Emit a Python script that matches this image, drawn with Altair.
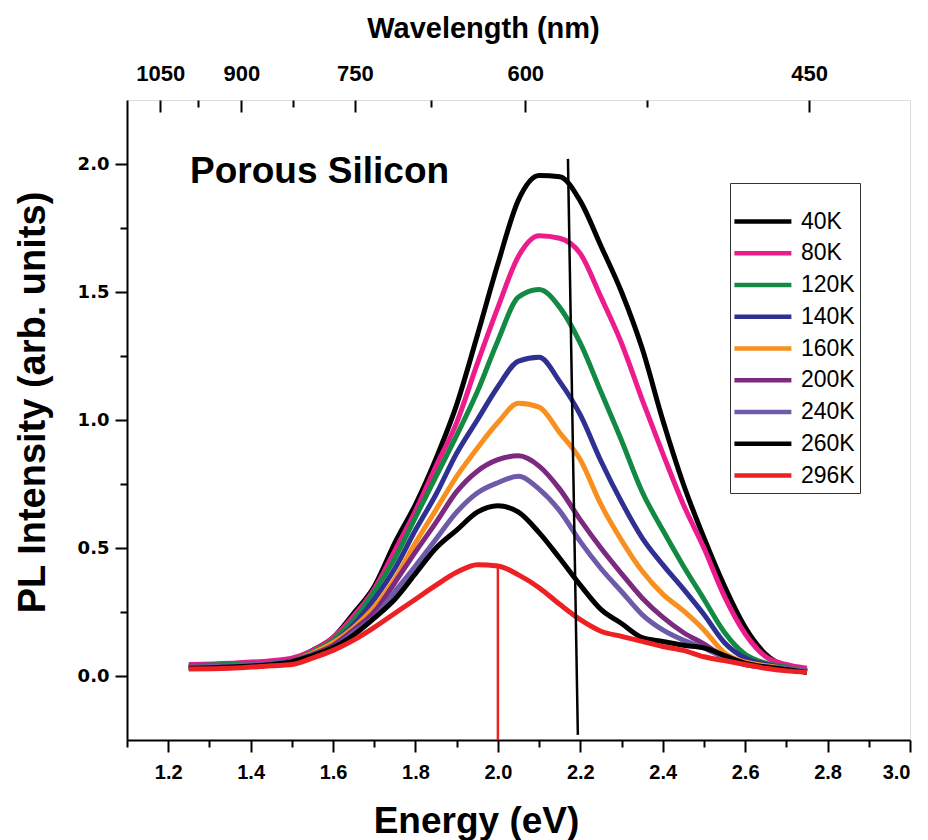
import altair as alt
import pandas as pd

ENERGY = [1.25, 1.35, 1.45, 1.5, 1.55, 1.6, 1.65, 1.7, 1.75, 1.8, 1.85, 1.9, 1.95, 2.0,
          2.05, 2.1, 2.15, 2.2, 2.25, 2.3, 2.35, 2.4, 2.45, 2.5, 2.55, 2.6, 2.65, 2.7, 2.75]

T40 = [0.03, 0.035, 0.045, 0.06, 0.10, 0.15, 0.245, 0.35, 0.52, 0.67, 0.85, 1.06, 1.33, 1.61,
       1.86, 1.955, 1.95, 1.855, 1.68, 1.50, 1.28, 1.0, 0.75, 0.54, 0.35, 0.19, 0.085, 0.035, 0.015]
T80 = [0.045, 0.05, 0.06, 0.07, 0.10, 0.15, 0.235, 0.34, 0.49, 0.645, 0.82, 0.99, 1.22, 1.44,
       1.64, 1.72, 1.71, 1.65, 1.48, 1.30, 1.08, 0.87, 0.67, 0.50, 0.31, 0.165, 0.075, 0.045, 0.03]
T120 = [0.04, 0.045, 0.05, 0.06, 0.095, 0.14, 0.22, 0.33, 0.46, 0.62, 0.78, 0.94, 1.11, 1.31,
        1.48, 1.51, 1.44, 1.30, 1.11, 0.92, 0.72, 0.57, 0.43, 0.30, 0.17, 0.085, 0.05, 0.035, 0.02]
T140 = [0.035, 0.04, 0.05, 0.06, 0.09, 0.13, 0.20, 0.30, 0.42, 0.57, 0.71, 0.87, 1.0, 1.13,
        1.23, 1.245, 1.15, 1.02, 0.84, 0.68, 0.54, 0.435, 0.34, 0.24, 0.13, 0.07, 0.045, 0.03, 0.02]
T160 = [0.035, 0.04, 0.05, 0.06, 0.09, 0.13, 0.19, 0.27, 0.38, 0.52, 0.65, 0.78, 0.89, 0.99,
        1.065, 1.05, 0.95, 0.845, 0.67, 0.53, 0.41, 0.32, 0.255, 0.18, 0.09, 0.055, 0.04, 0.03, 0.02]
T200 = [0.035, 0.04, 0.05, 0.06, 0.085, 0.12, 0.18, 0.25, 0.365, 0.485, 0.60, 0.72, 0.80, 0.845,
        0.86, 0.82, 0.73, 0.61, 0.50, 0.40, 0.305, 0.23, 0.17, 0.125, 0.075, 0.045, 0.035, 0.03, 0.02]
T240 = [0.035, 0.04, 0.05, 0.055, 0.085, 0.11, 0.17, 0.23, 0.33, 0.43, 0.535, 0.64, 0.715, 0.755,
        0.78, 0.73, 0.645, 0.525, 0.42, 0.33, 0.24, 0.18, 0.14, 0.11, 0.07, 0.045, 0.035, 0.03, 0.02]
T260 = [0.03, 0.035, 0.045, 0.055, 0.08, 0.11, 0.16, 0.226, 0.30, 0.40, 0.50, 0.57, 0.64, 0.665,
        0.64, 0.56, 0.46, 0.355, 0.26, 0.205, 0.15, 0.135, 0.12, 0.11, 0.08, 0.05, 0.035, 0.025, 0.015]
T296 = [0.027, 0.03, 0.04, 0.045, 0.07, 0.10, 0.14, 0.19, 0.245, 0.30, 0.355, 0.405, 0.435, 0.43,
        0.395, 0.345, 0.28, 0.22, 0.175, 0.155, 0.135, 0.115, 0.10, 0.075, 0.06, 0.045, 0.03, 0.02, 0.015]

LABELS = ["40K", "80K", "120K", "140K", "160K", "200K", "240K", "260K", "296K"]
SERIES = [T40, T80, T120, T140, T160, T200, T240, T260, T296]
COLORS = ["#000000", "#EC1C8C", "#138A43", "#2E3192", "#F7901E",
          "#7B2A7F", "#6D5BAA", "#000000", "#ED2024"]

X_MAJOR = [1.2, 1.4, 1.6, 1.8, 2.0, 2.2, 2.4, 2.6, 2.8, 3.0]
X_MINOR = [1.1, 1.3, 1.5, 1.7, 1.9, 2.1, 2.3, 2.5, 2.7, 2.9]
Y_MAJOR = [0.0, 0.5, 1.0, 1.5, 2.0]
Y_MINOR = [0.25, 0.75, 1.25, 1.75]
WL_MAJOR = [1050, 900, 750, 600, 450]
WL_MINOR = [975, 825, 675, 525]
HC = 1239.84

X_DOM = [1.1, 3.0]
Y_DOM = [-0.25, 2.25]

# guide lines: red at peak of 296K, black slanted through 40K peak region
RED_LINE = {"x": [2.0], "x2": [2.0], "y": [-0.25], "y2": [0.43]}
BLACK_LINE = {"x": [2.170], "x2": [2.194], "y": [2.02], "y2": [-0.23]}
NOTE = {"x": [1.253], "y": [1.97], "t": ["Porous Silicon"]}

rows = []
for lab, vals in zip(LABELS, SERIES):
    for e, v in zip(ENERGY, vals):
        rows.append({"E": e, "I": v, "T": lab})
df = pd.DataFrame(rows)

xs = alt.Scale(domain=X_DOM, nice=False, zero=False)
ys = alt.Scale(domain=Y_DOM, nice=False, zero=False)

FONT = "Liberation Sans"

lines = alt.Chart(df).mark_line(strokeWidth=5, interpolate="monotone").encode(
    x=alt.X("E:Q", scale=xs, axis=alt.Axis(
        orient="bottom",
        values=X_MAJOR, format=".1f", tickSize=12, tickWidth=2, labelPadding=10,
        labelFont=FONT, labelFontWeight="bold", labelFontSize=20, labelColor="black",
        domainColor="black", domainWidth=2, tickColor="black", grid=False,
        title="Energy (eV)", titleFont=FONT, titleFontSize=37, titleFontWeight="bold",
        titleColor="black", titleBaseline="alphabetic", titleAlign="center",
        titleX=349, titleY=92)),
    y=alt.Y("I:Q", scale=ys, axis=alt.Axis(
        orient="left",
        values=Y_MAJOR, format=".1f", tickSize=12, tickWidth=2, labelPadding=6,
        labelFont="DejaVu Sans", labelFontWeight="bold", labelFontSize=18, labelColor="black",
        domainColor="black", domainWidth=2, tickColor="black", grid=False,
        title="PL Intensity (arb. units)", titleFont=FONT, titleFontSize=38,
        titleFontWeight="bold", titleColor="black", titleAngle=-90,
        titleAlign="center", titleBaseline="middle", titleX=-94, titleY=302)),
    color=alt.Color("T:N", sort=LABELS, scale=alt.Scale(domain=LABELS, range=COLORS),
                    legend=alt.Legend(
                        orient="none", legendX=603, legendY=83, title=" ",
                        titleFontSize=8, titlePadding=9,
                        symbolType="M-1.2,0H2.8", symbolSize=812, symbolStrokeWidth=4.5,
                        rowPadding=2.75, labelFont=FONT, labelFontSize=23,
                        labelColor="black", labelOffset=33, padding=5,
                        strokeColor="#333333", fillColor="white")),
)

helper = alt.Chart(df).mark_point(opacity=0)

x_minor = helper.encode(
    x=alt.X("E:Q", scale=xs, axis=alt.Axis(orient="bottom", values=X_MINOR, tickSize=7,
                                           tickWidth=2, tickColor="black", labels=False,
                                           domain=False, grid=False, title=None)),
    y=alt.Y("I:Q", scale=ys, axis=None))

y_minor = helper.encode(
    x=alt.X("E:Q", scale=xs, axis=None),
    y=alt.Y("I:Q", scale=ys, axis=alt.Axis(orient="left", values=Y_MINOR, tickSize=7,
                                           tickWidth=2, tickColor="black", labels=False,
                                           domain=False, grid=False, title=None)))

top_major = helper.encode(
    x=alt.X("E:Q", scale=xs, axis=alt.Axis(
        orient="top", values=[HC / w for w in WL_MAJOR], offset=-12, tickSize=12,
        tickWidth=2, tickColor="black", domain=False, grid=False,
        labelExpr="format(1239.84 / datum.value, '.0f')", labelPadding=15,
        labelFont=FONT, labelFontWeight="bold", labelFontSize=22, labelColor="black",
        title="Wavelength  (nm)", titleFont=FONT, titleFontSize=29, titleFontWeight="bold",
        titleColor="black", titleBaseline="middle", titleAlign="center",
        titleX=356, titleY=-84)),
    y=alt.Y("I:Q", scale=ys, axis=None))

top_minor = helper.encode(
    x=alt.X("E:Q", scale=xs, axis=alt.Axis(
        orient="top", values=[HC / w for w in WL_MINOR], offset=-7, tickSize=7,
        tickWidth=2, tickColor="black", domain=False, grid=False, labels=False, title=None)),
    y=alt.Y("I:Q", scale=ys, axis=None))

red_rule = alt.Chart(pd.DataFrame(RED_LINE)).mark_rule(color="#ED2024", strokeWidth=2.5).encode(
    x=alt.X("x:Q", scale=xs, axis=None), x2="x2:Q",
    y=alt.Y("y:Q", scale=ys, axis=None), y2="y2:Q")

black_rule = alt.Chart(pd.DataFrame(BLACK_LINE)).mark_rule(color="black", strokeWidth=2.5).encode(
    x=alt.X("x:Q", scale=xs, axis=None), x2="x2:Q",
    y=alt.Y("y:Q", scale=ys, axis=None), y2="y2:Q")

note = alt.Chart(pd.DataFrame(NOTE)).mark_text(
    font=FONT, fontSize=37, fontWeight="bold", align="left", baseline="middle", color="black"
).encode(x=alt.X("x:Q", scale=xs, axis=None), y=alt.Y("y:Q", scale=ys, axis=None), text="t:N")

chart = alt.layer(
    top_minor, top_major, x_minor, y_minor, lines, red_rule, black_rule, note
).resolve_axis(x="independent", y="independent").properties(
    width=783, height=640,
    autosize=alt.AutoSizeParams(type="none"),
    padding={"left": 127, "top": 100, "right": 18, "bottom": 100},
).configure_view(stroke="black", strokeWidth=2).configure(background="white")

chart.save("out.html", embed_options={"renderer": "svg", "actions": False})
